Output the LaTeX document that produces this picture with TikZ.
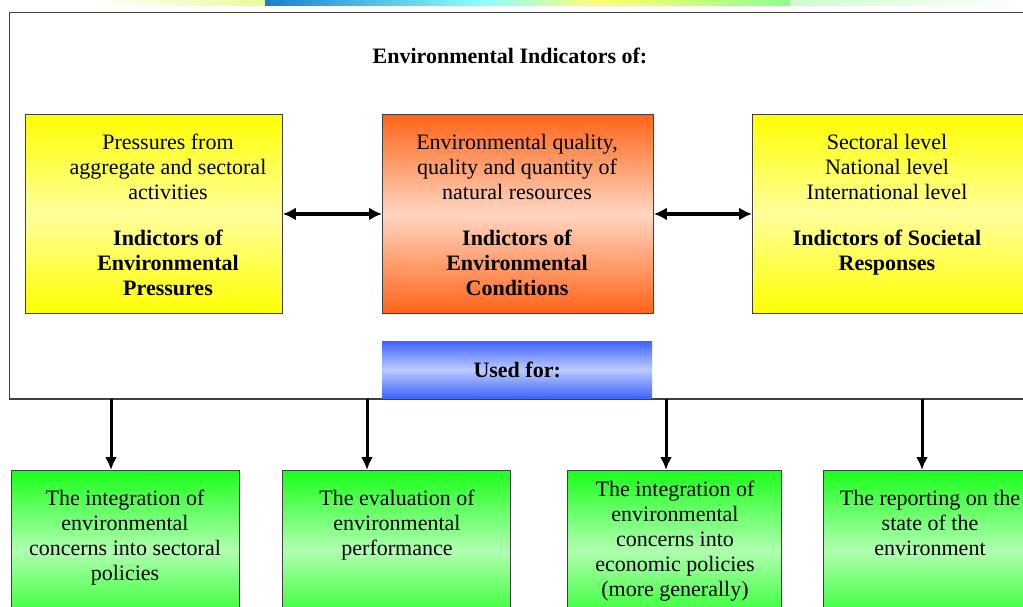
\documentclass[tikz,border=0pt]{standalone}
\usepackage{fontspec}
\setmainfont{Liberation Serif}
\newfontfamily\serf{Liberation Serif}
\usetikzlibrary{arrows.meta,calc}
\definecolor{ylwA}{HTML}{FFFF00}
\definecolor{ylwB}{HTML}{FFFF9C}
\definecolor{orgA}{HTML}{FF6418}
\definecolor{orgB}{HTML}{FFD6C2}
\definecolor{bluA}{HTML}{3F62FF}
\definecolor{bluB}{HTML}{BCCBFF}
\definecolor{grnA}{HTML}{1CFF1C}
\definecolor{grnB}{HTML}{B0FFB0}
\definecolor{edge}{HTML}{404040}
\begin{document}
\begin{tikzpicture}[x=1pt,y=-1pt,
  txt/.style={align=center,inner sep=0pt,font=\serf\fontsize{22}{25}\selectfont},
  btxt/.style={align=center,inner sep=0pt,font=\serf\fontsize{22}{25}\selectfont\bfseries},
  boxbase/.style={draw=edge,line width=0.9pt,anchor=north west,inner sep=0pt,shading=axis},
  ybox/.style={boxbase,top color=ylwA,bottom color=ylwA,middle color=ylwB},
  obox/.style={boxbase,top color=orgA,bottom color=orgA,middle color=orgB},
  gbox/.style={boxbase,top color=grnA,bottom color=grnA,middle color=grnB},
  dbl/.style={{Latex[length=13pt,width=13pt]}-{Latex[length=13pt,width=13pt]},line width=3.6pt},
  down/.style={-{Latex[length=13pt,width=12pt]},line width=3pt}]
\useasboundingbox (0,0) rectangle (1023,606);
\clip (0,0) rectangle (1023,606);
% faint coloured strip at the top edge
\fill[left color=white,right color=green!25!yellow!40] (90,0) rectangle (265,5);
\fill[left color=blue!45!cyan!80!black!90,right color=cyan!45] (265,0) rectangle (480,5);
\fill[left color=cyan!45,right color=yellow!55] (480,0) rectangle (600,5);
\fill[left color=yellow!55,right color=green!45] (600,0) rectangle (790,5);
\fill[left color=green!20!white,right color=white] (790,0) rectangle (1023,5);
% outer frame
\node[draw=edge,line width=1.4pt,anchor=north west,inner sep=0pt,
      minimum width=1040pt,minimum height=386pt] (frame) at (9,12) {};
\node[btxt] (title) at (510,56) {Environmental Indicators of:};
% indicator boxes
\node[ybox,minimum width=257pt,minimum height=199pt] (press) at (25,114) {};
\node[obox,minimum width=271pt,minimum height=199pt] (cond) at (382,114) {};
\node[ybox,minimum width=271pt,minimum height=199pt] (resp) at (752,114) {};
\node[txt] (presst) at (168,214.5) {Pressures from\\aggregate and sectoral\\activities\\[21pt]\textbf{Indictors of}\\\textbf{Environmental}\\\textbf{Pressures}};
\node[txt] (condt) at (517,214.5) {Environmental quality,\\quality and quantity of\\natural resources\\[21pt]\textbf{Indictors of}\\\textbf{Environmental}\\\textbf{Conditions}};
\node[txt] (respt) at (887,205) {Sectoral level\\National level\\International level\\[21pt]\textbf{Indictors of Societal}\\\textbf{Responses}};
\draw[dbl] (press.east) -- (cond.west);
\draw[dbl] (cond.east) -- (resp.west);
% used for
\node[anchor=north west,inner sep=0pt,minimum width=270pt,minimum height=57pt,
      shading=axis,top color=bluA,bottom color=bluA,middle color=bluB] (used) at (382,341) {};
\node[btxt] (usedt) at (used.center) {Used for:};
\draw[edge,line width=1.4pt] (frame.south west) -- (frame.south east);
% use boxes
\node[gbox,minimum width=228pt,minimum height=160pt] (g1) at (11,470) {};
\node[gbox,minimum width=228pt,minimum height=160pt] (g2) at (282,470) {};
\node[gbox,minimum width=214pt,minimum height=160pt] (g3) at (567,470) {};
\node[gbox,minimum width=230pt,minimum height=160pt] (g4) at (823,470) {};
\node[txt] (g1t) at (125,538) {The integration of\\environmental\\concerns into sectoral\\policies};
\node[txt] (g2t) at (397,525.5) {The evaluation of\\environmental\\performance};
\node[txt] (g3t) at (675,541) {The integration of\\environmental\\concerns into\\economic policies\\(more generally)};
\node[txt] (g4t) at (930,522.5) {The reporting on the\\state of the\\environment};
% down arrows
\coordinate (c1) at (111,0);
\coordinate (c2) at (367,0);
\coordinate (c3) at (666,0);
\coordinate (c4) at (922,0);
\draw[down] (frame.south -| c1) -- (g1.north -| c1);
\draw[down] (frame.south -| c2) -- (g2.north -| c2);
\draw[down] (frame.south -| c3) -- (g3.north -| c3);
\draw[down] (frame.south -| c4) -- (g4.north -| c4);
\end{tikzpicture}
\end{document}
